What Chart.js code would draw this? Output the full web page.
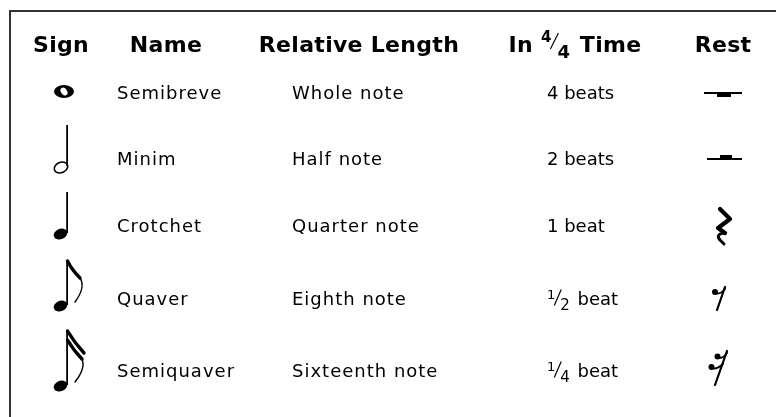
<!DOCTYPE html>
<html>
<head>
  <title>Note values</title>
  <script src="https://cdn.jsdelivr.net/npm/chart.js"></script>
  <style>
    body { margin: 0; background: #fff; }
    canvas { display: block; }
  </style>
</head>
<body>
  <canvas id="chart" width="776" height="417"></canvas>

  <script>
    // table content
    const headers = ['Sign', 'Name', 'Relative Length', 'In 4/4 Time', 'Rest'];
    const signs = ['semibreve', 'minim', 'crotchet', 'quaver', 'semiquaver'];
    const names = ['Semibreve', 'Minim', 'Crotchet', 'Quaver', 'Semiquaver'];
    const lengths = ['Whole note', 'Half note', 'Quarter note', 'Eighth note', 'Sixteenth note'];
    const beats = ['4 beats', '2 beats', '1 beat', '1/2 beat', '1/4 beat'];
    const rests = ['semibreve', 'minim', 'crotchet', 'quaver', 'semiquaver'];

    // table layout, in pixels of the hidden linear scales
    const headerY = 43;
    const rowY = [92, 158, 225, 298, 370];
    const headerX = [61, 166, 359, 575, 723];
    const colX = [64, 117, 292, 547, 723];

    // offscreen canvas used as a point style, drawn around its centre
    function glyph(draw) {
      const c = document.createElement('canvas');
      c.width = 70;
      c.height = 100;
      const g = c.getContext('2d');
      g.translate(35, 50);
      g.fillStyle = '#000';
      g.strokeStyle = '#000';
      g.lineCap = 'round';
      g.lineJoin = 'round';
      draw(g);
      return c;
    }

    function head(g, x, y, filled) {
      g.save();
      g.translate(x, y);
      g.rotate(-0.4);
      g.beginPath();
      g.ellipse(0, 0, 7, 5.2, 0, 0, Math.PI * 2);
      if (filled) {
        g.fill();
      } else {
        g.lineWidth = 1.6;
        g.stroke();
      }
      g.restore();
    }

    function stem(g, top, bottom) {
      g.fillRect(2.2, top, 1.8, bottom - top);
    }

    const noteGlyphs = {
      semibreve: glyph(g => {
        g.beginPath();
        g.ellipse(0, -0.5, 10, 6.5, 0, 0, Math.PI * 2);
        g.ellipse(0, -0.5, 3, 4.3, -0.6, 0, Math.PI * 2);
        g.fill('evenodd');
      }),
      minim: glyph(g => {
        head(g, -3, 9.5, false);
        stem(g, -33, 8);
      }),
      crotchet: glyph(g => {
        head(g, -3.5, 9, true);
        stem(g, -33, 8);
      }),
      quaver: glyph(g => {
        head(g, -3.5, 8, true);
        stem(g, -38, 7);
        g.lineWidth = 3.4;
        g.beginPath();
        g.moveTo(3.5, -37);
        g.quadraticCurveTo(8, -28, 16, -20);
        g.stroke();
        g.lineWidth = 1.4;
        g.beginPath();
        g.moveTo(16, -20);
        g.quadraticCurveTo(22, -11, 11, 4);
        g.stroke();
      }),
      semiquaver: glyph(g => {
        head(g, -3.5, 16, true);
        stem(g, -40, 15);
        g.lineWidth = 3.4;
        g.beginPath();
        g.moveTo(3.5, -39);
        g.quadraticCurveTo(10, -28, 20, -17);
        g.moveTo(3.5, -30);
        g.quadraticCurveTo(10, -19, 18, -11);
        g.stroke();
        g.lineWidth = 1.4;
        g.beginPath();
        g.moveTo(18, -11);
        g.quadraticCurveTo(22, -2, 11, 12);
        g.stroke();
      })
    };

    function restHook(g, dx, dy, sx, sy) {
      g.beginPath();
      g.arc(dx, dy, 3, 0, Math.PI * 2);
      g.fill();
      g.lineWidth = 1.8;
      g.beginPath();
      g.moveTo(dx, dy + 1);
      g.quadraticCurveTo(dx + 5, dy + 3, sx, sy);
      g.stroke();
    }

    const restGlyphs = {
      semibreve: glyph(g => {
        g.fillRect(-19, 0, 38, 2);
        g.fillRect(-6, 0, 14, 5);
      }),
      minim: glyph(g => {
        g.fillRect(-16, 0, 35, 2);
        g.fillRect(-3, -3, 12, 3);
      }),
      crotchet: glyph(g => {
        g.lineWidth = 4.2;
        g.beginPath();
        g.moveTo(-3, -16);
        g.lineTo(7, -6);
        g.lineTo(-5, 3);
        g.lineTo(2, 8);
        g.stroke();
        g.lineWidth = 3;
        g.beginPath();
        g.moveTo(2, 8);
        g.quadraticCurveTo(-8, 9, -3, 15);
        g.lineTo(1, 19);
        g.stroke();
      }),
      quaver: glyph(g => {
        restHook(g, -8, -6, 2, -9);
        g.lineWidth = 2.2;
        g.beginPath();
        g.moveTo(2, -11);
        g.lineTo(-6, 12);
        g.stroke();
      }),
      semiquaver: glyph(g => {
        restHook(g, -5.5, -13.5, 4, -17);
        restHook(g, -11.5, -3, 0, -6);
        g.lineWidth = 2.2;
        g.beginPath();
        g.moveTo(4, -19);
        g.lineTo(-8, 15);
        g.stroke();
      })
    };

    // text drawing, with stacked fractions such as 1/2 or 4/4
    function setFont(ctx, size, bold, spacing) {
      ctx.font = (bold ? 'bold ' : '') + size + 'px "DejaVu Sans"';
      ctx.letterSpacing = spacing + 'px';
    }

    function drawLabel(ctx, text, x, y, st) {
      const parts = text.split(/(\d\/\d)/).filter(p => p.length);
      const widths = parts.map(p => {
        if (/^\d\/\d$/.test(p)) {
          setFont(ctx, st.numSize, st.bold, 0);
          const wn = ctx.measureText(p[0]).width;
          setFont(ctx, st.denSize, st.bold, 0);
          return wn + st.slashGap + ctx.measureText(p[2]).width + st.fracPad;
        }
        setFont(ctx, st.size, st.bold, st.spacing);
        return ctx.measureText(p).width;
      });
      const total = widths.reduce((a, b) => a + b, 0);
      let cx = st.align === 'center' ? x - total / 2 : x;
      const base = y + st.baseline;
      ctx.fillStyle = '#000';
      ctx.textAlign = 'left';
      ctx.textBaseline = 'alphabetic';
      parts.forEach((p, i) => {
        if (/^\d\/\d$/.test(p)) {
          setFont(ctx, st.numSize, st.bold, 0);
          ctx.fillText(p[0], cx, base + st.numShift);
          const wn = ctx.measureText(p[0]).width;
          ctx.lineWidth = 1.2;
          ctx.strokeStyle = '#000';
          ctx.beginPath();
          ctx.moveTo(cx + wn - 1, base + st.numShift + 7);
          ctx.lineTo(cx + wn + st.slashGap - 1, base + st.numShift - 9);
          ctx.stroke();
          setFont(ctx, st.denSize, st.bold, 0);
          ctx.fillText(p[2], cx + wn + st.slashGap - 2, base + st.denShift);
        } else {
          setFont(ctx, st.size, st.bold, st.spacing);
          ctx.fillText(p, cx, base);
        }
        cx += widths[i];
      });
    }

    const headerStyle = {
      size: 22, bold: true, spacing: 0.3, align: 'center', baseline: 9,
      numSize: 15, denSize: 18, numShift: -10, denShift: 6, slashGap: 8, fracPad: 0
    };
    const bodyStyle = {
      size: 18, bold: false, spacing: 1, align: 'left', baseline: 7,
      numSize: 13, denSize: 15, numShift: -6.5, denShift: 4.5, slashGap: 7, fracPad: 0
    };
    const beatStyle = Object.assign({}, bodyStyle, { spacing: 0 });

    const tableText = {
      id: 'tableText',
      beforeDatasetsDraw(chart) {
        const ctx = chart.ctx;
        ctx.save();
        ctx.strokeStyle = '#333';
        ctx.lineWidth = 2;
        ctx.strokeRect(10, 11, 900, 600);
        ctx.restore();
      },
      afterDatasetsDraw(chart) {
        const ctx = chart.ctx;
        chart.data.datasets.forEach((ds, i) => {
          if (!ds.texts) return;
          const meta = chart.getDatasetMeta(i);
          ctx.save();
          meta.data.forEach((pt, j) => drawLabel(ctx, ds.texts[j], pt.x, pt.y, ds.textStyle));
          ctx.restore();
        });
      }
    };

    const column = (x, list) => list.map((_, i) => ({ x: x, y: rowY[i] }));

    const chart = new Chart(document.getElementById('chart'), {
      type: 'scatter',
      data: {
        datasets: [
          {
            label: 'Header',
            data: headers.map((_, i) => ({ x: headerX[i], y: headerY })),
            texts: headers,
            textStyle: headerStyle,
            pointRadius: 0
          },
          {
            label: 'Sign',
            data: column(colX[0], signs),
            pointStyle: signs.map(s => noteGlyphs[s])
          },
          {
            label: 'Name',
            data: column(colX[1], names),
            texts: names,
            textStyle: bodyStyle,
            pointRadius: 0
          },
          {
            label: 'Relative Length',
            data: column(colX[2], lengths),
            texts: lengths,
            textStyle: bodyStyle,
            pointRadius: 0
          },
          {
            label: 'In 4/4 Time',
            data: column(colX[3], beats),
            texts: beats,
            textStyle: beatStyle,
            pointRadius: 0
          },
          {
            label: 'Rest',
            data: column(colX[4], rests),
            pointStyle: rests.map(s => restGlyphs[s])
          }
        ]
      },
      options: {
        responsive: false,
        animation: false,
        events: [],
        layout: { padding: 0, autoPadding: false },
        plugins: { legend: { display: false }, tooltip: { enabled: false } },
        scales: {
          x: { type: 'linear', min: 0, max: 776, display: false },
          y: { type: 'linear', min: 0, max: 417, reverse: true, display: false }
        }
      },
      plugins: [tableText]
    });
  </script>
</body>
</html>
